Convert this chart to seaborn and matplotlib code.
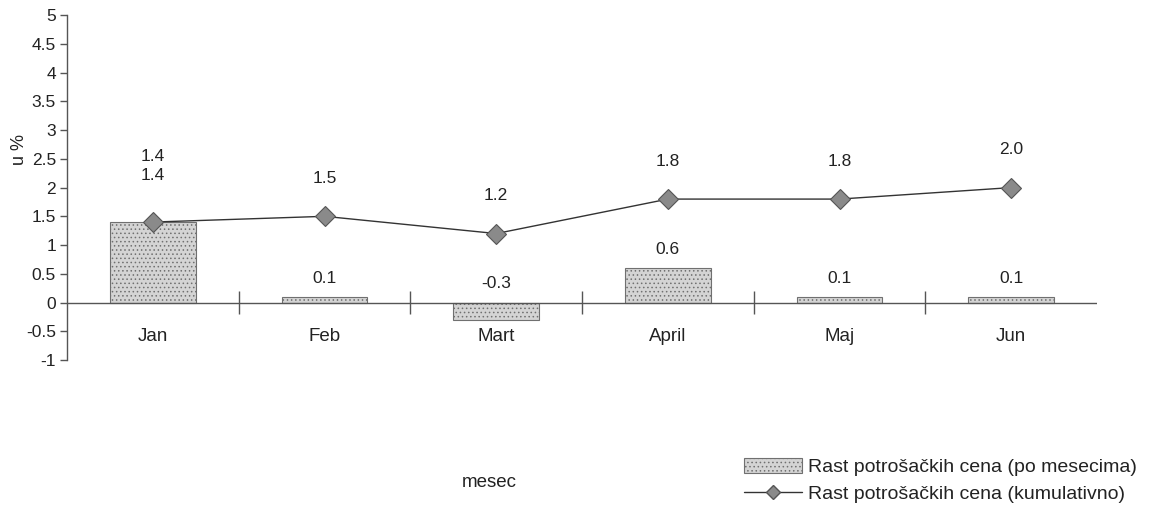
import numpy as np
import pandas as pd
import matplotlib
matplotlib.use("Agg")
import matplotlib.pyplot as plt
from matplotlib.patches import Patch
from matplotlib.lines import Line2D
import seaborn as sns

months = ["Jan", "Feb", "Mart", "April", "Maj", "Jun"]
monthly = [1.4, 0.1, -0.3, 0.6, 0.1, 0.1]
cumulative = [1.4, 1.5, 1.2, 1.8, 1.8, 2.0]
yticks = [-1, -0.5, 0, 0.5, 1, 1.5, 2, 2.5, 3, 3.5, 4, 4.5, 5]
ytick_labels = ["-1", "-0.5", "0", "0.5", "1", "1.5", "2", "2.5", "3", "3.5", "4", "4.5", "5"]
label_monthly = "Rast potrošačkih cena (po mesecima)"
label_cumulative = "Rast potrošačkih cena (kumulativno)"

sns.set_theme(style="white")
plt.rcParams["font.family"] = ["Liberation Sans", "DejaVu Sans"]
plt.rcParams["hatch.linewidth"] = 0.6

df = pd.DataFrame({"mesec": months, "mesecno": monthly, "kumulativno": cumulative})

fig = plt.figure(figsize=(11.56, 5.07), dpi=100)
ax = fig.add_axes([0.058, 0.290, 0.891, 0.680])

txt = "#222222"
bar_face = "#d4d4d4"
bar_edge = "#707070"
sns.barplot(data=df, x="mesec", y="mesecno", ax=ax, width=0.5, color=bar_face,
            edgecolor=bar_edge, linewidth=0.8, hatch="....", saturation=1)

pos = np.arange(len(months))
sns.lineplot(x=pos, y=df["kumulativno"], ax=ax, color="#333333", linewidth=1.0,
             marker="D", markersize=10, markerfacecolor="#8a8a8a",
             markeredgecolor="#555555", markeredgewidth=0.8)

# zero line and category boundary ticks
ax.axhline(0, color="#555555", linewidth=1.0, zorder=1)
bounds = pos[:-1] + 0.5
ax.vlines(bounds, -0.2, 0.2, color="#555555", linewidth=1.0)

ax.set_xlim(-0.5, len(months) - 0.5)
ax.set_ylim(-1, 5)
ax.set_yticks(yticks)
ax.set_yticklabels(ytick_labels)

for s in ["top", "right", "bottom"]:
    ax.spines[s].set_visible(False)
ax.spines["left"].set_color("#555555")
ax.spines["left"].set_linewidth(1.0)

ax.tick_params(axis="y", left=True, length=5, width=1, color="#555555",
               labelsize=12.5, labelcolor=txt, pad=3)
ax.tick_params(axis="x", bottom=False, length=0, labelsize=13.5,
               labelcolor=txt, pad=-23)

# value labels; when both values coincide the two labels are stacked
for i, (m, c) in enumerate(zip(monthly, cumulative)):
    close = abs(m - c) < 0.05
    ax.annotate(f"{c:.1f}", (pos[i], c), xytext=(0, 22 if not close else 42),
                textcoords="offset points", ha="center", va="bottom",
                fontsize=12.5, color=txt)
    ax.annotate(f"{m:.1f}", (pos[i], max(m, 0)), xytext=(0, 8 if not close else 28),
                textcoords="offset points", ha="center", va="bottom",
                fontsize=12.5, color=txt)

ax.set_xlabel("mesec", fontsize=13.5, color=txt)
ax.xaxis.set_label_coords(0.41, -0.33)
ax.set_ylabel("u %", fontsize=13, color=txt)
ax.yaxis.set_label_coords(-0.038, 0.61)

handles = [
    Patch(facecolor=bar_face, edgecolor=bar_edge, hatch="....", linewidth=0.8,
          label=label_monthly),
    Line2D([0], [0], color="#333333", linewidth=1.0, marker="D", markersize=7,
           markerfacecolor="#8a8a8a", markeredgecolor="#555555", label=label_cumulative),
]
fig.legend(handles=handles, loc="upper left", bbox_to_anchor=(0.637, 0.112),
           frameon=False, fontsize=14, handlelength=3.0, handleheight=0.8,
           handletextpad=0.3, labelspacing=0.45, borderaxespad=0,
           labelcolor=txt)

fig.savefig("out.png", dpi=100, facecolor="white")
